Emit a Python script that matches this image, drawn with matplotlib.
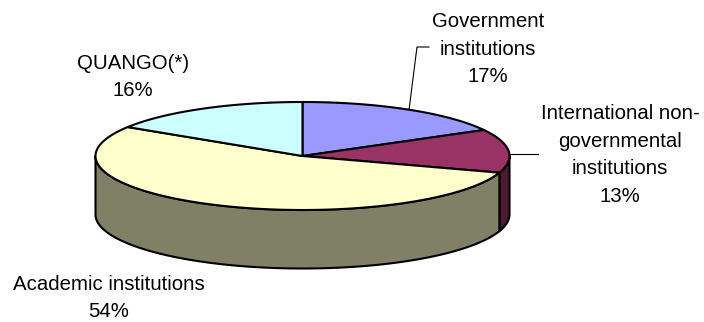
import numpy as np
import matplotlib
matplotlib.use("Agg")
import matplotlib.pyplot as plt

labels = ["Government\ninstitutions\n17%",
          "International non-\ngovernmental\ninstitutions\n13%",
          "Academic institutions\n54%",
          "QUANGO(*)\n16%"]
values = [17, 13, 54, 16]
top_colors = ["#9999FF", "#993366", "#FFFFCC", "#CCFFFF"]
side_colors = ["#4C4C80", "#4C1A33", "#808066", "#668080"]

# ellipse of the pie top, in pixels
cx, cy = 302.5, 156.0
rx, ry = 207.0, 54.0
depth = 58.5

plt.rcParams["font.family"] = ["Liberation Sans", "DejaVu Sans"]

fig = plt.figure(figsize=(7.04, 3.22), dpi=100)
ax = fig.add_axes([0, 0, 1, 1])
ax.set_xlim(0, 704)
ax.set_ylim(322, 0)
ax.axis("off")


def rim(a0, a1, dy=0.0):
    a = np.radians(np.linspace(a0, a1, 200))
    return cx + rx * np.cos(a), cy - ry * np.sin(a) + dy


# slices run clockwise from 12 o'clock
total = sum(values)
ends = 90 - 360 * np.cumsum(values) / total
starts = np.r_[90, ends[:-1]]

# side wall first: only the front half of the rim shows
for a0, a1, col in zip(starts, ends, side_colors):
    for shift in (0, -360):
        lo = max(a1 + shift, -180)
        hi = min(a0 + shift, 0)
        if hi <= lo:
            continue
        x, y = rim(hi, lo)
        xb, yb = rim(lo, hi, depth)
        ax.fill(np.r_[x, xb], np.r_[y, yb], facecolor=col, edgecolor="black",
                linewidth=1.5, joinstyle="round", zorder=2)

for a0, a1, col in zip(starts, ends, top_colors):
    x, y = rim(a0, a1)
    ax.fill(np.r_[cx, x], np.r_[cy, y], facecolor=col, edgecolor="black",
            linewidth=1.5, joinstyle="round", zorder=3)

# leader lines
ax.plot([409, 417, 429], [110, 47, 47], color="black", lw=0.8, zorder=1)
ax.plot([510, 538], [154, 154], color="black", lw=0.8, zorder=1)

positions = [(488, 49), (620, 155), (108.5, 298), (133, 77)]
for (tx, ty), text in zip(positions, labels):
    ax.text(tx, ty, text, ha="center", va="center", fontsize=14.7,
            linespacing=1.56, color="black")

fig.savefig("out.png", dpi=100)
